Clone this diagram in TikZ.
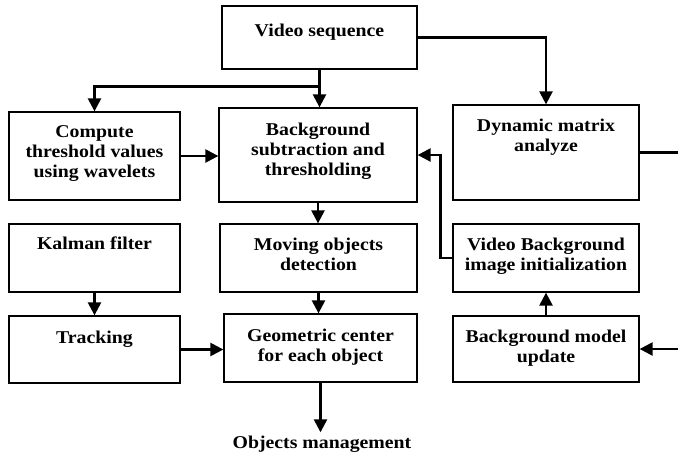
\documentclass[tikz,border=0pt]{standalone}
\usepackage{fontspec}
\setmainfont{Liberation Serif}[FakeStretch=1.1]
\usetikzlibrary{arrows.meta}
\begin{document}
\begin{tikzpicture}[x=1pt,y=1pt,
  box/.style={draw, line width=1.3pt, inner sep=0pt},
  txt/.style={font=\fontsize{18}{20}\selectfont\bfseries, align=center, inner sep=0pt, anchor=north},
  conn/.style={line width=2.4pt, -{Triangle[width=13pt,length=13pt]}},
  plain/.style={line width=2.4pt}]
\useasboundingbox (0,0) rectangle (678,-453);
% boxes
\node[box, minimum width=195, minimum height=63] (vs) at (319.5,-37.5) {};
\node[box, minimum width=171, minimum height=88] (ct) at (94.5,-156) {};
\node[box, minimum width=198, minimum height=94] (bs) at (318,-155) {};
\node[box, minimum width=186, minimum height=95] (dm) at (546,-152.5) {};
\node[box, minimum width=171, minimum height=68] (kf) at (94.5,-258) {};
\node[box, minimum width=197, minimum height=68] (mo) at (318.5,-258) {};
\node[box, minimum width=186, minimum height=68] (vb) at (546,-258) {};
\node[box, minimum width=171, minimum height=67] (tr) at (94.5,-349.5) {};
\node[box, minimum width=193, minimum height=68] (gc) at (320.5,-348) {};
\node[box, minimum width=186, minimum height=66] (bm) at (546,-349) {};
% texts
\node[txt] (vst) at (319.5,-22) {\strut Video sequence};
\node[txt] (ctt) at (94.5,-123) {\strut Compute\\\strut threshold values\\\strut using wavelets};
\node[txt] (bst) at (318,-121) {\strut Background\\\strut subtraction and\\\strut thresholding};
\node[txt] (dmt) at (546,-117) {\strut Dynamic matrix\\\strut analyze};
\node[txt] (kft) at (94.5,-235) {\strut Kalman filter};
\node[txt] (mot) at (318.5,-236) {\strut Moving objects\\\strut detection};
\node[txt] (vbt) at (546,-236) {\strut Video Background\\\strut image initialization};
\node[txt] (trt) at (94.5,-329) {\strut Tracking};
\node[txt] (gct) at (320.5,-327) {\strut Geometric center\\\strut for each object};
\node[txt] (bmt) at (546,-328) {\strut Background model\\\strut update};
\node[font=\fontsize{18}{20}\selectfont\bfseries, inner sep=3pt, anchor=base] (om) at (322,-448) {Objects management};
% free ends
\coordinate (dmout) at (678,-152.5);
\coordinate (bmin) at (678,-349);
% connectors
\draw[conn] (vs.south) -- ++(0,-17) coordinate (j) -| (ct.north);
\draw[conn] (j) -- (j |- bs.north);
\draw[conn] (vs.east) -| (dm.north);
\draw[conn] (ct.east) -- (ct.east -| bs.west);
\draw[conn] (bs.south) -- (bs.south |- mo.north);
\draw[plain] (dm.east) -- (dmout);
\draw[conn] (vb.west) -- ++(-12,0) |- (bs.east);
\draw[conn] (kf.south) -- (tr.north);
\draw[conn] (mo.south) -- (mo.south |- gc.north);
\draw[conn] (tr.east) -- (tr.east -| gc.west);
\draw[conn] (gc.south) -- (gc.south |- om.north);
\draw[conn] (bm.north) -- (vb.south);
\draw[conn] (bmin) -- (bm.east);
\end{tikzpicture}
\end{document}
